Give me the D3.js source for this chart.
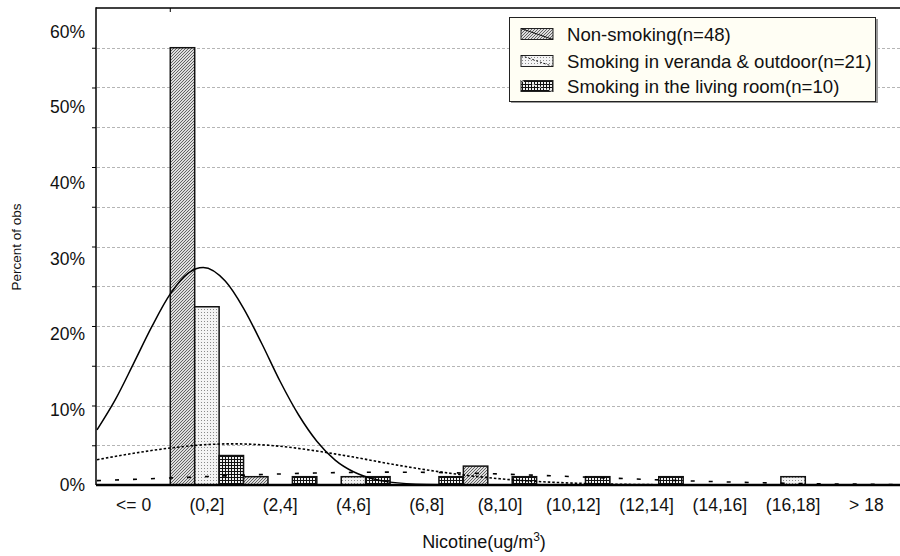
<!DOCTYPE html>
<html>
<head>
<meta charset="utf-8">
<script src="https://cdn.jsdelivr.net/npm/d3@7"></script>
<style>
  html, body { margin: 0; padding: 0; background: #fff; }
  svg { display: block; font-family: "Liberation Sans", Arial, sans-serif; }
</style>
</head>
<body>
<svg id="chart" width="900" height="556"></svg>
<script>
// Nicotine concentration classes (ug/m3)
const categories = ["<= 0", "(0,2]", "(2,4]", "(4,6]", "(6,8]", "(8,10]",
                    "(10,12]", "(12,14]", "(14,16]", "(16,18]", "> 18"];

// Percent of observations per class for each household group
const nonSmoking = [0, 57.9, 1.1, 0, 0, 2.5, 0, 0, 0, 0, 0];
const veranda    = [0, 23.6, 0, 1.1, 0, 0, 0, 0, 0, 1.1, 0];
const livingRoom = [0, 3.9, 1.1, 1.1, 1.1, 1.1, 1.1, 1.1, 0, 0, 0];

const seriesNames = ["Non-smoking(n=48)",
                     "Smoking in veranda & outdoor(n=21)",
                     "Smoking in the living room(n=10)"];

// Fitted normal curves, as [nicotine, percent] points
const nonSmokingFit = [[-2, 7.3], [-1.5, 11.3], [-1, 16.1], [-0.5, 21.0], [0, 25.3],
  [0.5, 28.1], [0.9, 28.8], [1.5, 27.0], [2, 23.4], [2.5, 18.7], [3, 13.7],
  [3.5, 9.3], [4, 5.8], [4.5, 3.3], [5, 1.75], [5.5, 0.85], [6, 0.38],
  [7, 0.06], [8, 0], [20, 0]];
const verandaFit = [[-2, 3.35], [-1, 4.2], [0, 4.9], [1, 5.35], [1.7, 5.45],
  [3, 5.13], [4, 4.5], [5, 3.7], [6, 2.8], [7, 2.0], [8, 1.33], [9, 0.82],
  [10, 0.47], [11, 0.25], [12, 0.12], [13, 0.05], [14, 0.02], [16, 0], [20, 0]];
const livingRoomFit = [[-2, 0.58], [0, 0.93], [2, 1.30], [4, 1.59], [6, 1.7],
  [8, 1.59], [10, 1.29], [12, 0.92], [14, 0.57], [16, 0.31], [18, 0.15], [20, 0.06]];

// Axis labels and grid levels (percent)
const yLabelTicks = [0, 10, 20, 30, 40, 50, 60];
const gridLevels = [5.263, 10.526, 15.789, 21.053, 26.316, 31.579, 36.842,
                    42.105, 47.368, 52.632, 57.895];
const yMax = 63.158;
const nicotineRange = [-2, 20];

const svg = d3.select("#chart");
const plotLeft = 97, plotRight = 903, plotTop = 8, plotBottom = 485;
const fontFamily = "'Liberation Sans', Arial, sans-serif";

const x = d3.scaleBand().domain(categories).range([plotLeft, plotRight]).padding(0);
const xs = d3.scaleBand().domain([0, 1, 2]).range([0, x.bandwidth()]).padding(0);
const xv = d3.scaleLinear().domain(nicotineRange).range([plotLeft, plotRight]);
const y = d3.scaleLinear().domain([0, yMax]).range([plotBottom, plotTop]);

// Fill patterns
const defs = svg.append("defs");
const p1 = defs.append("pattern").attr("id", "patNS").attr("patternUnits", "userSpaceOnUse")
  .attr("width", 3).attr("height", 3);
p1.append("rect").attr("width", 3).attr("height", 3).attr("fill", "#dedede");
p1.append("path").attr("d", "M0,3 L3,0 M-1,1 L1,-1 M2,4 L4,2").attr("stroke", "#555").attr("stroke-width", 0.9);

const p2 = defs.append("pattern").attr("id", "patV").attr("patternUnits", "userSpaceOnUse")
  .attr("width", 3).attr("height", 3);
p2.append("rect").attr("width", 3).attr("height", 3).attr("fill", "#f4f4f4");
p2.append("rect").attr("width", 1).attr("height", 1).attr("fill", "#8a8a8a");

const p3 = defs.append("pattern").attr("id", "patLR").attr("patternUnits", "userSpaceOnUse")
  .attr("width", 3).attr("height", 3);
p3.append("rect").attr("width", 3).attr("height", 3).attr("fill", "#111");
p3.append("rect").attr("x", 1).attr("y", 1).attr("width", 2).attr("height", 2).attr("fill", "#f0f0f0");

const fills = ["url(#patNS)", "url(#patV)", "url(#patLR)"];

// Grid lines
svg.append("g").selectAll("line").data(gridLevels).join("line")
  .attr("x1", plotLeft).attr("x2", 900)
  .attr("y1", d => Math.round(y(d)) + 0.5).attr("y2", d => Math.round(y(d)) + 0.5)
  .attr("stroke", "#b5b5b5").attr("stroke-width", 1).attr("stroke-dasharray", "3,2");

// Bars
const seriesValues = [nonSmoking, veranda, livingRoom];
const barData = [];
categories.forEach((c, i) => {
  seriesValues.forEach((vals, s) => {
    if (vals[i] > 0) barData.push({ cat: c, s, v: vals[i] });
  });
});
svg.append("g").selectAll("rect").data(barData).join("rect")
  .attr("x", d => x(d.cat) + xs(d.s))
  .attr("y", d => y(d.v))
  .attr("width", xs.bandwidth())
  .attr("height", d => plotBottom - y(d.v))
  .attr("fill", d => fills[d.s])
  .attr("stroke", "#111").attr("stroke-width", 1.5);

// Fitted curves
const line = d3.line().x(d => xv(d[0])).y(d => y(d[1])).curve(d3.curveMonotoneX);
const curveStyles = [
  { data: nonSmokingFit, dash: null, w: 1.5 },
  { data: verandaFit, dash: "2.5,2", w: 1.6 },
  { data: livingRoomFit, dash: "4,14", w: 1.6 }
];
svg.append("g").selectAll("path").data(curveStyles).join("path")
  .attr("d", d => line(d.data))
  .attr("fill", "none").attr("stroke", "#000")
  .attr("stroke-width", d => d.w)
  .attr("stroke-dasharray", d => d.dash);

// Frame: top line, left axis
svg.append("line").attr("x1", 96).attr("x2", 900).attr("y1", plotTop).attr("y2", plotTop)
  .attr("stroke", "#000").attr("stroke-width", 1.5);
svg.append("line").attr("x1", x(categories[1])).attr("x2", x(categories[1]))
  .attr("y1", plotTop).attr("y2", plotTop + 4).attr("stroke", "#000").attr("stroke-width", 1);
svg.append("line").attr("x1", 96).attr("x2", 96).attr("y1", plotTop - 0.75).attr("y2", plotBottom)
  .attr("stroke", "#000").attr("stroke-width", 1.5);

// Y tick marks at grid levels
svg.append("g").attr("transform", "translate(96,0)")
  .call(d3.axisLeft(y).tickValues(gridLevels).tickSize(4).tickFormat(""))
  .call(g => g.select(".domain").remove())
  .call(g => g.selectAll("line").attr("stroke", "#000"));

// Y labels
svg.append("g").attr("transform", "translate(96,0)")
  .call(d3.axisLeft(y).tickValues(yLabelTicks).tickSize(0).tickPadding(11)
    .tickFormat(d => d + "%"))
  .call(g => g.select(".domain").remove())
  .call(g => g.selectAll("text").attr("font-size", 17.5).attr("fill", "#111")
    .attr("font-family", fontFamily));

// X labels
svg.append("g").attr("transform", `translate(0,${plotBottom})`)
  .call(d3.axisBottom(x).tickSize(0).tickPadding(14))
  .call(g => g.select(".domain").remove())
  .call(g => g.selectAll("text").attr("font-size", 17.5).attr("fill", "#111")
    .attr("font-family", fontFamily));

// Baseline
svg.append("line").attr("x1", 96).attr("x2", 900).attr("y1", plotBottom).attr("y2", plotBottom)
  .attr("stroke", "#000").attr("stroke-width", 2.5);

// Axis titles
const xt = svg.append("text").attr("x", 484).attr("y", 548).attr("text-anchor", "middle")
  .attr("font-size", 18).attr("fill", "#111");
xt.append("tspan").text("Nicotine(ug/m");
xt.append("tspan").attr("font-size", 12).attr("dy", -7).text("3");
xt.append("tspan").attr("dy", 7).text(")");

svg.append("text").attr("transform", "translate(21,247) rotate(-90)")
  .attr("text-anchor", "middle").attr("font-size", 13.5).attr("fill", "#111")
  .text("Percent of obs");

// Legend
const lg = svg.append("g");
lg.append("rect").attr("x", 511).attr("y", 19).attr("width", 367).attr("height", 84)
  .attr("fill", "#9a9a9a");
lg.append("rect").attr("x", 509.5).attr("y", 17.5).attr("width", 366).attr("height", 84)
  .attr("fill", "#fffef4").attr("stroke", "#222").attr("stroke-width", 1);
const rowsY = [34, 61, 86];
const legendDash = [null, "2,2", "3,3"];
seriesNames.forEach((name, i) => {
  const sy = rowsY[i];
  lg.append("rect").attr("x", 521).attr("y", sy - 5.5).attr("width", 32).attr("height", 11)
    .attr("fill", fills[i]).attr("stroke", "#222").attr("stroke-width", 1);
  lg.append("line").attr("x1", 521).attr("y1", sy - 5.5).attr("x2", 553).attr("y2", sy + 5.5)
    .attr("stroke", i === 2 ? "#fff" : "#111").attr("stroke-width", 1)
    .attr("stroke-dasharray", legendDash[i]);
  lg.append("text").attr("x", 567).attr("y", sy).attr("dy", "0.35em")
    .attr("font-size", 18.6).attr("fill", "#111").text(name);
});
</script>
</body>
</html>
